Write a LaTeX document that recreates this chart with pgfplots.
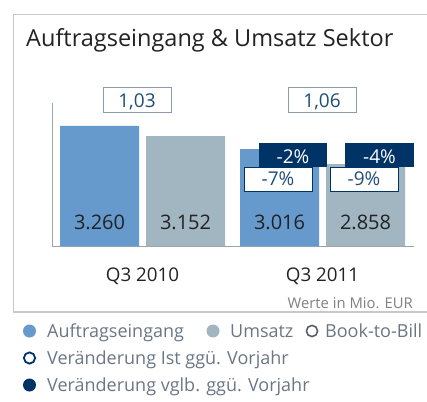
\documentclass[border=0pt]{standalone}
\usepackage{pgfplots}
\pgfplotsset{compat=1.18}
\usepackage{fontspec}
\setmainfont{Open Sans}

\definecolor{auftrag}{HTML}{6699CC}
\definecolor{umsatz}{HTML}{A2B6C2}
\definecolor{navy}{HTML}{003366}
\definecolor{boxtext}{HTML}{1F4E79}
\definecolor{boxgray}{HTML}{8C9AAA}
\definecolor{framegray}{HTML}{C8C8C8}
\definecolor{axisgray}{HTML}{9AA4AE}
\definecolor{legtext}{HTML}{6B7685}
\definecolor{darktext}{HTML}{222222}

\begin{document}
\begin{tikzpicture}[x=1pt,y=1pt]
\clip (0,0) rectangle (427,-401);
% frame
\draw[framegray, line width=1.5pt] (13.5,-14.5) rectangle (445,-312);
% title
\node[anchor=base west, inner sep=0, text=darktext, font=\fontsize{23.5}{26}\selectfont]
  at (26,-47) {Auftragseingang \& Umsatz Sektor};

\begin{axis}[
    at={(52pt,-246pt)}, anchor=south west,
    scale only axis, width=362pt, height=143pt,
    ybar=7pt, bar width=79pt,
    xmin=-0.503, xmax=1.508,
    ymin=2000, ymax=3500,
    axis x line*=bottom, axis y line*=left,
    axis line style={draw=axisgray, line width=0.8pt, -},
    ytick=\empty,
    xtick={0,1}, xticklabels={Q3 2010, Q3 2011},
    major tick length=0pt,
    xticklabel style={anchor=base, yshift=-35pt, text=darktext,
        font=\fontsize{18.8}{21}\selectfont},
    clip=false,
]
\addplot[fill=auftrag, draw=none] coordinates {(0,3260) (1,3016)};
\addplot[fill=umsatz, draw=none] coordinates {(0,3152) (1,2858)};

\node[anchor=base, text=darktext, font=\fontsize{20}{23}\selectfont, xshift=-43pt, yshift=17pt] at (axis cs:0,2000) {3.260};
\node[anchor=base, text=darktext, font=\fontsize{20}{23}\selectfont, xshift=43pt, yshift=17pt] at (axis cs:0,2000) {3.152};
\node[anchor=base, text=darktext, font=\fontsize{20}{23}\selectfont, xshift=-43pt, yshift=17pt] at (axis cs:1,2000) {3.016};
\node[anchor=base, text=darktext, font=\fontsize{20}{23}\selectfont, xshift=43pt, yshift=17pt] at (axis cs:1,2000) {2.858};
\end{axis}

% book-to-bill boxes
\draw[boxgray, line width=1pt, fill=white] (103,-87) rectangle (171,-112);
\node[anchor=base, text=boxtext, font=\fontsize{19}{22}\selectfont] at (137,-107) {1,03};
\draw[boxgray, line width=1pt, fill=white] (288,-87) rectangle (356,-112);
\node[anchor=base, text=boxtext, font=\fontsize{19}{22}\selectfont] at (322,-107) {1,06};

% change vs. comparable previous year
\fill[navy] (259,-143) rectangle (327,-167);
\node[anchor=base, text=white, font=\fontsize{19}{22}\selectfont] at (293,-163) {-2\%};
\fill[navy] (345,-143) rectangle (414,-167);
\node[anchor=base, text=white, font=\fontsize{19}{22}\selectfont] at (379.5,-163) {-4\%};

% change actual vs. previous year
\draw[navy, line width=1pt, fill=white] (244,-167) rectangle (312,-191);
\node[anchor=base, text=boxtext, font=\fontsize{19}{22}\selectfont] at (278,-185) {-7\%};
\draw[navy, line width=1pt, fill=white] (330,-167) rectangle (398,-191);
\node[anchor=base, text=boxtext, font=\fontsize{19}{22}\selectfont] at (364,-185) {-9\%};

% source note
\node[anchor=base east, inner sep=0, text=gray, font=\fontsize{14.8}{17}\selectfont] at (413,-308) {Werte in Mio. EUR};

% legend
\begin{scope}[every node/.style={anchor=base west, inner sep=0, text=legtext, font=\fontsize{18}{21}\selectfont}]
\fill[auftrag] (29.5,-331) circle (6.5);
\node at (47,-337) {Auftragseingang};
\fill[umsatz] (213,-331) circle (6.5);
\node at (230,-337) {Umsatz};
\draw[legtext!80!black, line width=1.6pt] (312,-331) circle (5.6);
\node at (325,-337) {Book-to-Bill};
\draw[navy, line width=1.8pt] (29.5,-358) circle (5.6);
\node at (47,-364) {Veränderung Ist ggü. Vorjahr};
\fill[navy] (29.5,-385) circle (6.5);
\node at (47,-391) {Veränderung vglb. ggü. Vorjahr};
\end{scope}
\end{tikzpicture}
\end{document}
